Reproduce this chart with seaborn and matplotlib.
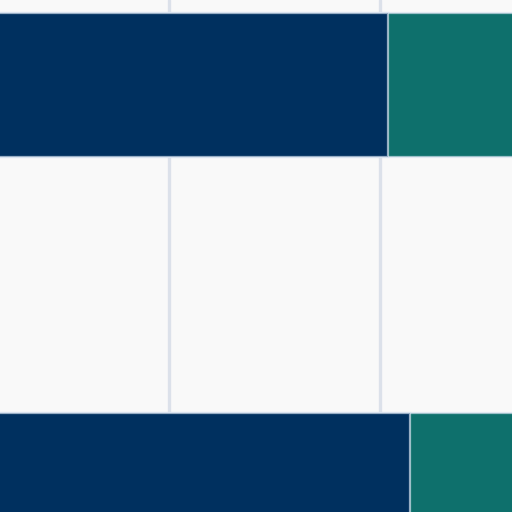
import matplotlib
matplotlib.use('Agg')
import matplotlib.pyplot as plt
import pandas as pd
import seaborn as sns

categories = ['A', 'B']
first_part = [20.4, 21.45]
second_part = [12.0, 12.0]

navy = '#00305f'
teal = '#0e706c'

df = pd.DataFrame({'category': categories,
                   'first': first_part,
                   'second': second_part})
df['total'] = df['first'] + df['second']

sns.set_theme(style='whitegrid')
fig = plt.figure(figsize=(5.12, 5.12), dpi=100)
ax = fig.add_axes([0, 0, 1, 1])
ax.set_facecolor('#f9f9f9')
fig.patch.set_facecolor('#f9f9f9')

edge = dict(edgecolor=(0.85, 0.89, 0.94, 0.7), linewidth=1.6)
sns.barplot(data=df, y='category', x='total', color=teal, orient='h',
            width=0.36, ax=ax, saturation=1, **edge)
sns.barplot(data=df, y='category', x='first', color=navy, orient='h',
            width=0.36, ax=ax, saturation=1, **edge)

ax.set_axisbelow(True)
ax.xaxis.grid(True, color='#dce1ea', linewidth=2.4)
ax.yaxis.grid(False)
ax.set_xticks([10, 20])
ax.set_xlim(1.99, 26.27)
ax.set_ylim(1.0675, -0.2125)
for s in ax.spines.values():
    s.set_visible(False)
ax.tick_params(axis='both', which='both', length=0, labelleft=False, labelbottom=False)
ax.set_xlabel('')
ax.set_ylabel('')

plt.savefig('out.png', dpi=100)
